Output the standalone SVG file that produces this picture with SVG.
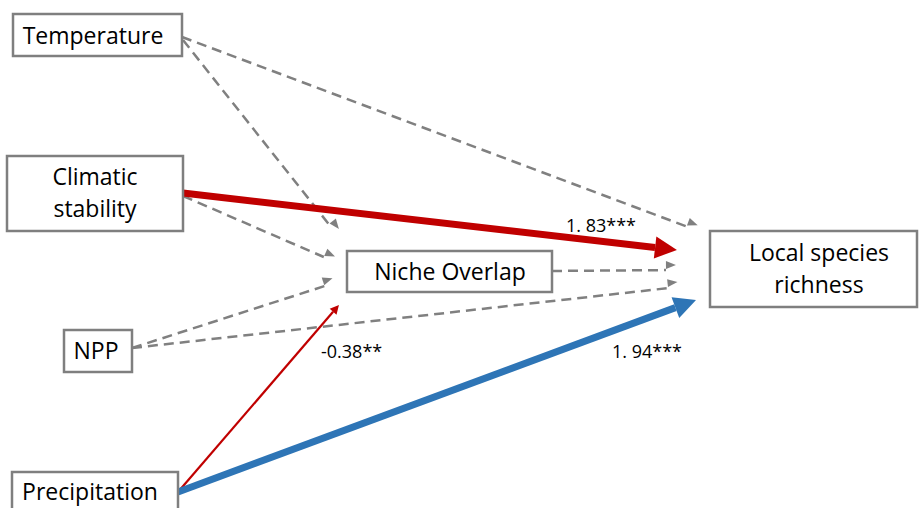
<svg xmlns="http://www.w3.org/2000/svg" width="919" height="508" viewBox="0 0 919 508">
<style>
.box{fill:#fff;stroke:#7f7f7f;stroke-width:2.5}
.t{font-family:"Open Sans","Liberation Sans",sans-serif;font-size:23px;fill:#000;text-anchor:middle}
.lbl{font-family:"Open Sans","Liberation Sans",sans-serif;font-size:18px;fill:#000}
.dash{fill:none;stroke:#808080;stroke-width:2.5;stroke-dasharray:10 6}
.red{fill:none;stroke:#c00000}
.blue{fill:none;stroke:#2e75b6}
</style>
<defs>
<marker id="ag" markerUnits="userSpaceOnUse" markerWidth="12" markerHeight="10" refX="0" refY="5" viewBox="0 -5 12 10" orient="auto" overflow="visible"><path d="M0,-4 L10,0 L0,4 z" fill="#808080"/></marker>
<marker id="ar" markerUnits="userSpaceOnUse" markerWidth="24" markerHeight="24" viewBox="0 -12 24 24" refX="0" refY="0" orient="auto" overflow="visible"><path d="M0,-11 L22,0 L0,11 z" fill="#c00000"/></marker>
<marker id="ars" markerUnits="userSpaceOnUse" markerWidth="10" markerHeight="10" viewBox="0 -5 10 10" refX="0" refY="0" orient="auto" overflow="visible"><path d="M0,-4.5 L9,0 L0,4.5 z" fill="#c00000"/></marker>
<marker id="ab" markerUnits="userSpaceOnUse" markerWidth="24" markerHeight="24" viewBox="0 -12 24 24" refX="0" refY="0" orient="auto" overflow="visible"><path d="M0,-11 L22,0 L0,11 z" fill="#2e75b6"/></marker>
</defs>
<g id="connectors">
<path class="dash" d="M182,37 L686.6,226.5" marker-end="url(#ag)"/>
<path class="dash" d="M183,40 L328.8,224.2" marker-end="url(#ag)"/>
<path class="dash" d="M183,196 L323.8,257" marker-end="url(#ag)"/>
<path class="dash" d="M132,348 L324.5,286.1" marker-end="url(#ag)"/>
<path class="dash" d="M132,348 L668.1,288.1" marker-end="url(#ag)"/>
<path class="dash" d="M552,271 L666,270.1" marker-end="url(#ag)"/>
<path class="red" stroke-width="7" d="M183,193 L655.1,247.5" marker-end="url(#ar)"/>
<path class="red" stroke-width="2.2" d="M178,492 L333.1,311.8" marker-end="url(#ars)"/>
<path class="blue" stroke-width="7" d="M178,492 L675.4,307.6" marker-end="url(#ab)"/>
<text class="lbl" x="566" y="232">1. 83***</text>
<text class="lbl" x="321" y="358">-0.38**</text>
<text class="lbl" x="612" y="358">1. 94***</text>
</g>
<g id="temperature"><rect class="box" x="13" y="14" width="169" height="42"/><text class="t" x="93" y="44">Temperature</text></g>
<g id="climatic-stability"><rect class="box" x="7" y="156" width="176" height="75"/><text class="t" x="95" y="185">Climatic</text><text class="t" x="95" y="217">stability</text></g>
<g id="niche-overlap"><rect class="box" x="347" y="251" width="205" height="41"/><text class="t" x="450" y="280">Niche Overlap</text></g>
<g id="local-species-richness"><rect class="box" x="710" y="231" width="207" height="76"/><text class="t" x="819" y="261">Local species</text><text class="t" x="819" y="293">richness</text></g>
<g id="npp"><rect class="box" x="64" y="330" width="68" height="42"/><text class="t" x="96" y="359">NPP</text></g>
<g id="precipitation"><rect class="box" x="12" y="472" width="166" height="45"/><text class="t" x="90" y="500">Precipitation</text></g>
</svg>
